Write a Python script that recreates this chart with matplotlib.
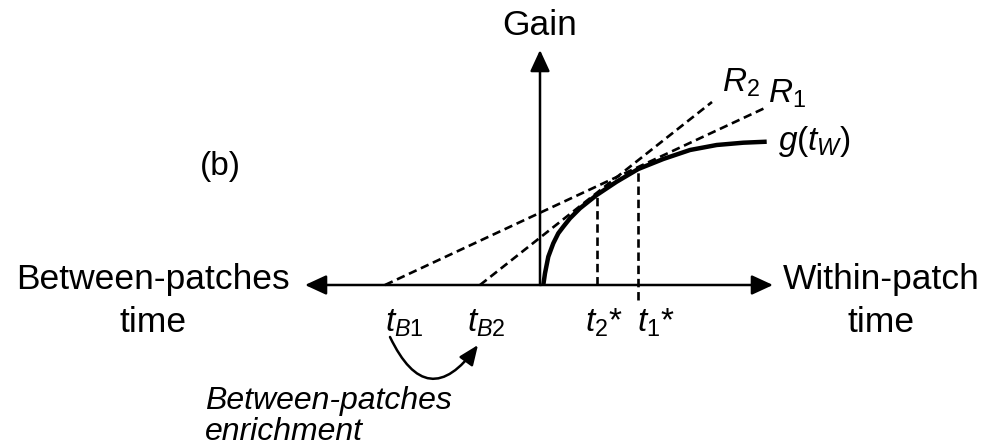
import matplotlib
matplotlib.use("Agg")
import matplotlib.pyplot as plt

plt.rcParams['font.family'] = ['Liberation Sans', 'DejaVu Sans']
plt.rcParams['mathtext.fontset'] = 'custom'
plt.rcParams['mathtext.rm'] = 'Liberation Sans'
plt.rcParams['mathtext.it'] = 'Liberation Sans:italic'

# gain curve g(t_W) (within-patch time, gain)
curve_t = [0.23, 0.4, 0.73, 1.23, 1.73, 2.23, 2.9, 3.9, 5.57, 7.57, 9.73,
           12.23, 14.9, 17.57, 20.23, 22.57]
curve_g = [0.0, 1.17, 2.83, 4.17, 5.17, 5.83, 6.67, 7.67, 9.0, 10.33, 11.6,
           12.6, 13.5, 14.0, 14.23, 14.33]

# travel times (negative side) and optimal residence times
t_B = {"B1": -15.6, "B2": -6.1}
t_star = {"1": 9.7, "2": 5.6}
g_star = {"1": 11.6, "2": 9.05}

# tangent lines R1 and R2: from t_B to their far end
R1_t = [-15.6, 22.6]
R1_g = [0.0, 17.8]
R2_t = [-6.1, 17.1]
R2_g = [0.0, 18.3]

# axis extents
x_left, x_right, y_top = -23.6, 23.2, 23.5

fig = plt.figure(figsize=(9.88, 4.48), dpi=100)
ax = fig.add_axes([0, 0, 1, 1])
ax.set_xlim(-54.1, 44.7)
ax.set_ylim(-16.3, 28.5)
ax.axis("off")

arrow = dict(arrowstyle="-|>,head_length=1.3,head_width=0.6", mutation_scale=10,
             color="black", lw=1.8, shrinkA=0, shrinkB=0)
ax.annotate("", xy=(x_left, 0), xytext=(0, 0), arrowprops=arrow)
ax.annotate("", xy=(x_right, 0), xytext=(0, 0), arrowprops=arrow)
ax.annotate("", xy=(-0.1, y_top), xytext=(-0.1, 0), arrowprops=arrow)

dash = (0, (3.2, 1.8))
ax.plot(R1_t, R1_g, color="black", lw=1.9, ls=dash)
ax.plot(R2_t, R2_g, color="black", lw=1.9, ls=dash)
ax.plot([t_star["2"], t_star["2"]], [0, g_star["2"]], color="black", lw=1.9, ls=dash)
ax.plot([t_star["1"], t_star["1"]], [-1.5, g_star["1"]], color="black", lw=1.9, ls=dash)

ax.plot(curve_t, curve_g, color="black", lw=3.2, solid_capstyle="butt",
        solid_joinstyle="round")

fs = 25.5
ax.text(-0.1, 25.0, "Gain", fontsize=fs, ha="center", va="baseline")
ax.text(-34.1, 11.8, "(b)", fontsize=24, ha="left", va="center")
ax.text(-25.1, 0.5, "Between-patches", fontsize=fs, ha="right", va="center")
ax.text(-38.8, -4.7, "time", fontsize=fs, ha="center", va="baseline")
ax.text(24.2, 0.5, "Within-patch", fontsize=fs, ha="left", va="center")
ax.text(34.0, -4.7, "time", fontsize=fs, ha="center", va="baseline")

ax.text(18.1, 19.3, r"$R_2$", fontsize=24, ha="left", va="baseline")
ax.text(22.7, 18.2, r"$R_1$", fontsize=24, ha="left", va="baseline")
ax.text(23.7, 13.5, r"$g(t_W)$", fontsize=24, ha="left", va="baseline")

ax.text(t_B["B1"], -4.7, r"$t_{B\mathrm{1}}$", fontsize=24, ha="left", va="baseline")
ax.text(t_B["B2"] - 1.3, -4.7, r"$t_{B\mathrm{2}}$", fontsize=24, ha="left", va="baseline")
ax.text(t_star["2"] - 1.2, -4.7, r"$t_2$*", fontsize=24, ha="left", va="baseline")
ax.text(t_star["1"] - 0.1, -4.7, r"$t_1$*", fontsize=24, ha="left", va="baseline")

# enrichment arrow from t_B1 to t_B2
ax.annotate("", xy=(-6.3, -6.0), xytext=(-15.1, -5.2),
            arrowprops=dict(arrowstyle="-|>,head_length=1.2,head_width=0.5",
                            mutation_scale=10, color="black", lw=1.8,
                            shrinkA=0, shrinkB=0,
                            connectionstyle="arc3,rad=0.84"))
ax.text(-33.6, -12.4, "Between-patches", fontsize=23, style="italic",
        ha="left", va="baseline")
ax.text(-33.6, -15.5, "enrichment", fontsize=23, style="italic",
        ha="left", va="baseline")

fig.savefig("out.png", dpi=100)
